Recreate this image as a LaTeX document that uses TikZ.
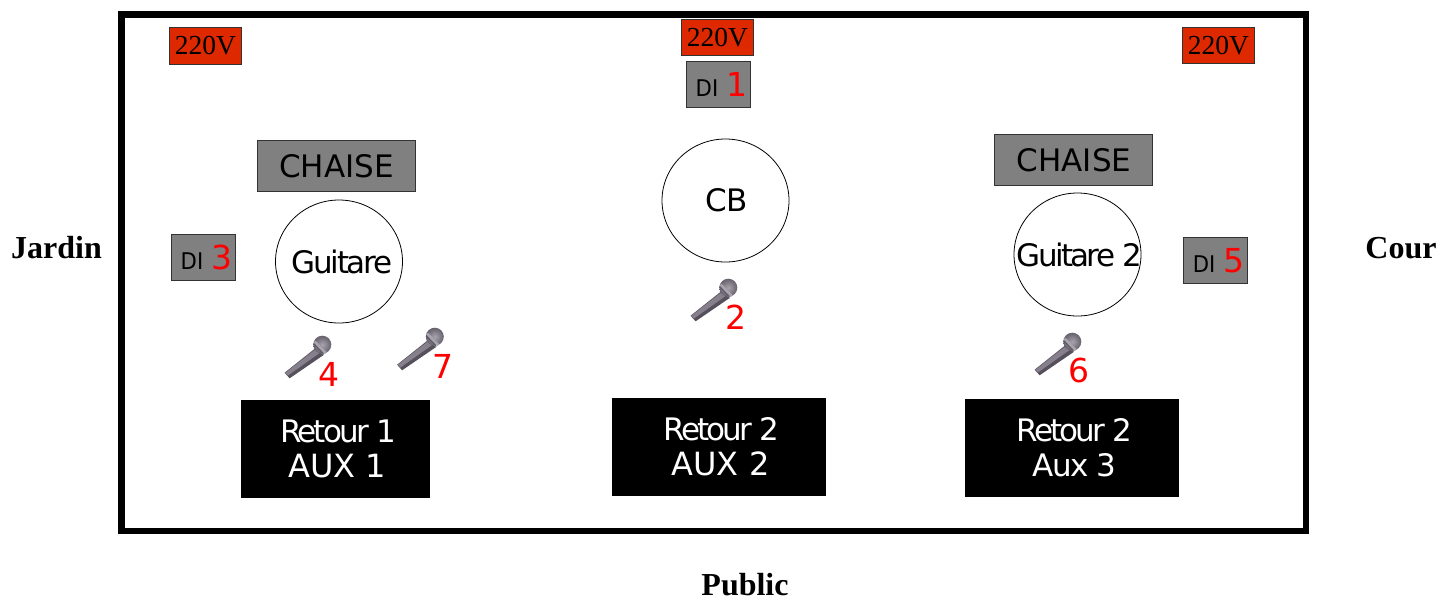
\documentclass[tikz,border=0pt]{standalone}
\usepackage{fontspec}
\usetikzlibrary{shapes.geometric}
\setmainfont{DejaVu Sans}
\newfontfamily\serifface{Liberation Serif}
\definecolor{powerred}{HTML}{DE2900}
\definecolor{boxgray}{HTML}{808080}
\definecolor{numred}{HTML}{FF0000}
\definecolor{micgray}{HTML}{85808C}
\definecolor{micdark}{HTML}{55505C}
\definecolor{miclight}{HTML}{A8A4AE}
\tikzset{
  x=1pt,y=-1pt,
  stagebox/.style={draw=black,line width=6.5pt,fill=white},
  power/.style={draw=black!80,line width=0.7pt,fill=powerred,inner sep=0,minimum width=72pt,minimum height=36.5pt,font=\serifface\fontsize{27.5}{27.5}\selectfont},
  dibox/.style={draw=black!80,line width=0.7pt,fill=boxgray,inner sep=0,minimum width=64.5pt,minimum height=46pt,font=\fontsize{24}{24}\selectfont},
  chair/.style={draw=black!80,line width=0.7pt,fill=boxgray,inner sep=0,minimum width=158pt,minimum height=51pt,font=\fontsize{31}{31}\selectfont},
  player/.style={draw=black,line width=0.8pt,fill=white,ellipse,inner sep=0,minimum width=127pt,minimum height=123pt,font=\fontsize{31}{31}\selectfont},
  monitor/.style={fill=black,text=white,inner sep=0,align=center,font=\fontsize{31}{35}\selectfont},
  side/.style={font=\serifface\bfseries\fontsize{32}{32}\selectfont,inner sep=0},
  num/.style={text=numred,inner sep=0,font=\fontsize{33}{33}\selectfont},
  mic/.pic={
    \fill[micdark] (-37.4,27.7) -- (-32.4,33.3) -- (1.6,10) -- (-6.7,3.3) -- cycle;
    \fill[micgray] (-36.6,27.7) -- (-34,30.5) -- (-1,7) -- (-5.5,3.5) -- cycle;
    \shade[inner color=miclight,outer color=micdark!90] (0.3,-0.3) circle (9);
    \draw[miclight,line width=2.6pt] (-7.5,-3.5) -- (3.8,8);
    \draw[micdark,line width=0.7pt] (-8.5,-1.5) -- (1.8,9.5);
  }
}
\newcommand{\Dnum}[1]{\hspace*{6pt}\scalebox{0.92}[1]{\fontsize{23}{23}\selectfont DI}\hspace{8pt}{\color{numred}\fontsize{33}{33}\selectfont #1}}
\newcommand{\Trk}[2]{{\addfontfeature{LetterSpace=#1}#2}}
\begin{document}
\begin{tikzpicture}
\useasboundingbox (0,0) rectangle (1439,598);
\node[stagebox,minimum width=1184.5pt,minimum height=516.5pt,inner sep=0,anchor=center] (stage) at (713.5,272.5) {};
\node[power] (p1) at (205.5,46) {220V};
\node[power] (p2) at (717.5,37.5) {220V};
\node[power] (p3) at (1218.5,45.5) {220V};
\node[dibox] (d1) at (718.5,84.5) {\Dnum{1}};
\node[dibox] (d3) at (203.5,257) {\Dnum{3}};
\node[dibox] (d5) at (1215.5,260.5) {\Dnum{5}};
\node[chair] (c1) at (336,166) {\hspace*{1pt}CHAISE};
\node[chair] (c2) at (1073.5,160) {\hspace*{1pt}CHAISE};
\node[player] (g1) at (339,261.5) {\makebox[0pt]{\hspace*{6pt}\Trk{-7.4}{Guitare}}};
\node[player] (cb) at (725.5,200.5) {\makebox[0pt]{\hspace*{2pt}CB}};
\node[player] (g2) at (1077.5,254.5) {\makebox[0pt]{\hspace*{4pt}\Trk{-8.5}{Guitare 2}}};
\node[monitor,minimum width=189pt,minimum height=98pt] (m1) at (335.5,449) {\hspace*{5pt}\Trk{-9}{Retour 1}\\\hspace*{4pt}{\fontsize{32}{35}\selectfont AUX 1}};
\node[monitor,minimum width=214pt,minimum height=98pt] (m2) at (719,447) {\hspace*{5pt}\Trk{-9}{Retour 2}\\\hspace*{3pt}{\fontsize{32}{35}\selectfont AUX 2}};
\node[monitor,minimum width=214pt,minimum height=98pt] (m3) at (1072,448) {\hspace*{5pt}\Trk{-9}{Retour 2}\\\hspace*{5pt}\Trk{-5.5}{Aux 3}};
\pic at (322,345) {mic};
\pic at (434.5,337) {mic};
\pic at (728,288) {mic};
\pic at (1072,342) {mic};
\node[num] (n4) at (329,374) {4};
\node[num] (n7) at (442.5,366) {7};
\node[num] (n2) at (735.5,317) {2};
\node[num] (n6) at (1079,370) {6};
\node[side] (jardin) at (56.5,248) {Jardin};
\node[side] (cour) at (1401,248) {Cour};
\node[side] (public) at (745,585) {Public};
\end{tikzpicture}
\end{document}
